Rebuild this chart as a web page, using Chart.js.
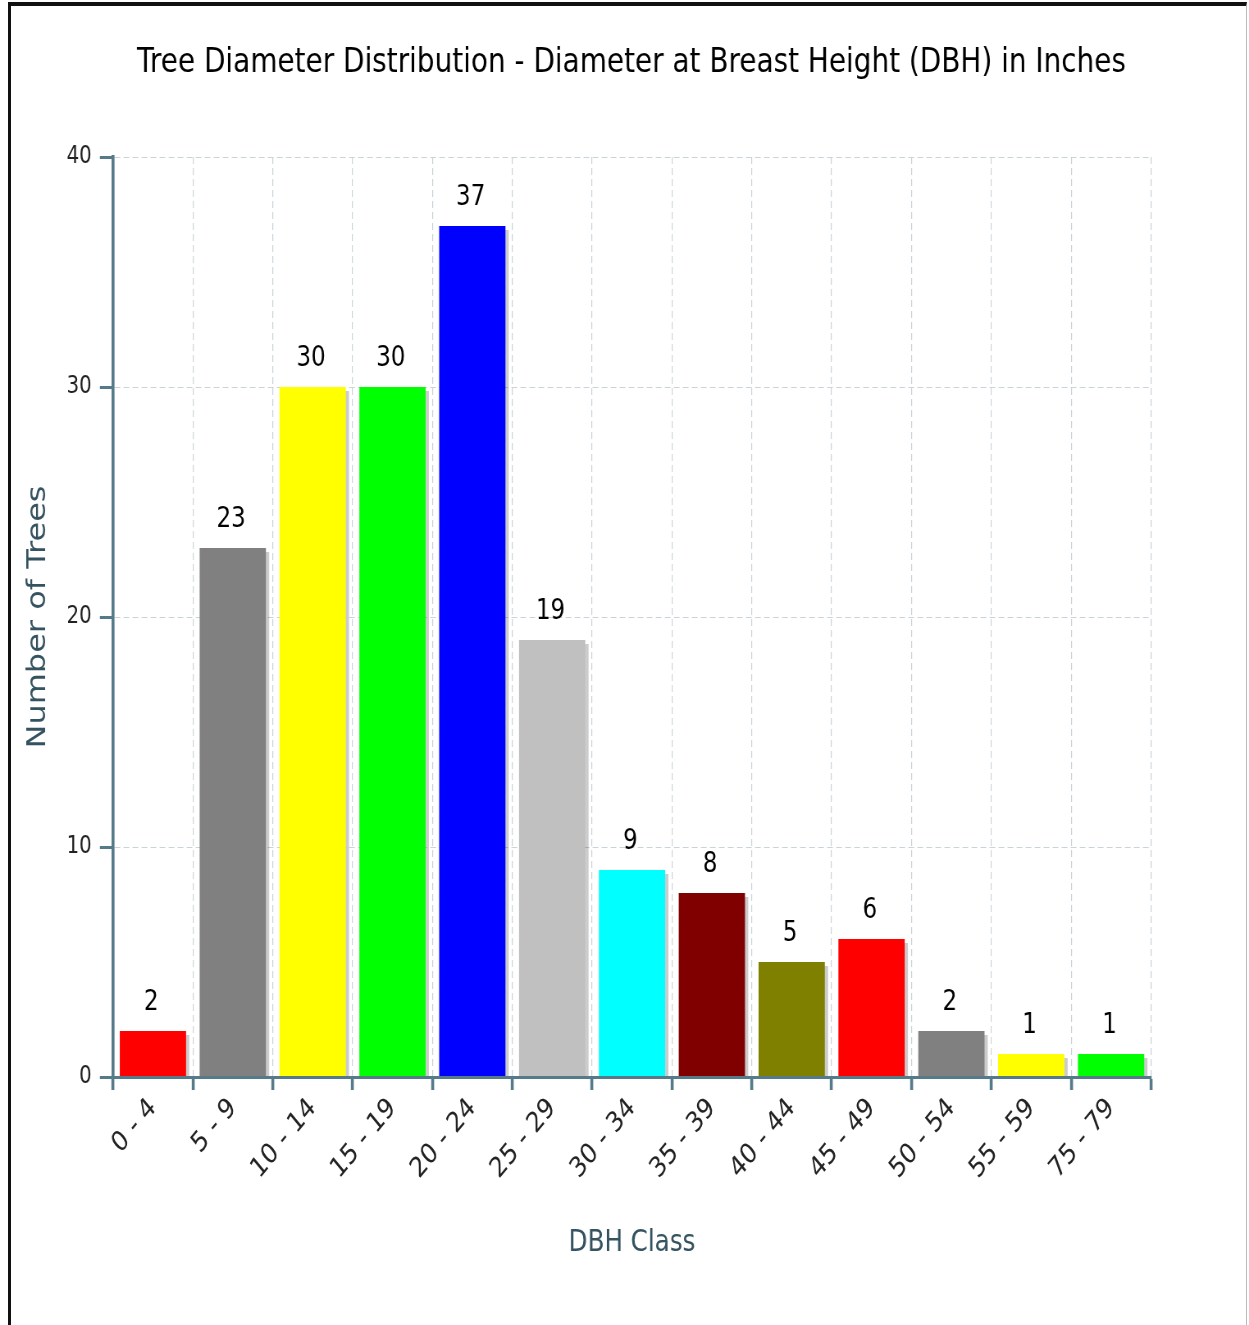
<!DOCTYPE html>
<html>
<head>
<meta charset="utf-8">
<title>Tree Diameter Distribution</title>
<script src="https://cdn.jsdelivr.net/npm/chart.js"></script>
<style>
  html, body { margin: 0; padding: 0; background: #fff; }
  body { position: relative; width: 1249px; height: 1325px; overflow: hidden; }
  #chart { position: absolute; left: 0; top: 0; }
  #frame {
    position: absolute; left: 8px; top: 2px; width: 1235px; height: 1340px;
    border-left: 3px solid #111; border-top: 4px solid #111; border-right: 1px solid #bbb;
    pointer-events: none;
  }
</style>
</head>
<body>
<canvas id="chart" width="1523" height="1325" style="width:1249px;height:1325px"></canvas>
<div id="frame"></div>
<script>
// data
const dbhClasses = ["0 - 4", "5 - 9", "10 - 14", "15 - 19", "20 - 24", "25 - 29", "30 - 34",
                    "35 - 39", "40 - 44", "45 - 49", "50 - 54", "55 - 59", "75 - 79"];
const treeCounts = [2, 23, 30, 30, 37, 19, 9, 8, 5, 6, 2, 1, 1];
const barColors = ["#FF0000", "#808080", "#FFFF00", "#00FF00", "#0000FF", "#C0C0C0", "#00FFFF",
                   "#800000", "#808000", "#FF0000", "#808080", "#FFFF00", "#00FF00"];
const yTicks = [0, 10, 20, 30, 40];

// the original is squeezed sideways, so draw wider and let css shrink it
const SX = 1249 / 1523;
const ix = px => px / SX;
const PAD_LEFT = 17;

const AXIS = "#557a8a";
const GRID = "#cad3d7";
const FONT = "DejaVu Sans";

// ==========================
// Bar shadow + value labels
// ==========================

const barShadow = {
    id: "barShadow",
    beforeDatasetsDraw(chart) {
        const c = chart.ctx;
        c.save();
        c.shadowColor = "rgba(0,0,0,0.2)";
        c.shadowOffsetX = 4;
        c.shadowOffsetY = 4;
        c.shadowBlur = 0;
    },
    afterDatasetsDraw(chart) {
        chart.ctx.restore();
    }
};

const valueLabels = {
    id: "valueLabels",
    afterDatasetsDraw(chart) {
        const c = chart.ctx;
        const meta = chart.getDatasetMeta(0);
        c.save();
        c.font = "28px '" + FONT + "'";
        c.fillStyle = "#000";
        c.textAlign = "center";
        c.textBaseline = "alphabetic";
        meta.data.forEach((bar, i) => {
            c.fillText(String(treeCounts[i]), bar.x - 2, bar.y - 21);
        });
        c.restore();
    }
};

new Chart(document.getElementById("chart"), {
    type: "bar",
    data: {
        labels: dbhClasses,
        datasets: [{
            data: treeCounts,
            backgroundColor: barColors,
            borderWidth: 0,
            barPercentage: 0.83,
            categoryPercentage: 1,
            clip: 0
        }]
    },
    options: {
        responsive: false,
        animation: false,
        devicePixelRatio: 1,
        layout: {
            padding: { left: PAD_LEFT, top: 0, right: 0, bottom: 0 }
        },
        plugins: {
            legend: { display: false },
            tooltip: { enabled: false },
            title: {
                display: true,
                text: "Tree Diameter Distribution - Diameter at Breast Height (DBH) in Inches",
                color: "#000",
                font: { family: FONT, size: 34, weight: "normal" },
                padding: { top: 42.6, bottom: 73.6 }
            }
        },
        scales: {
            x: {
                afterFit: s => { s.height = 1325 - 1077; },
                grid: {
                    color: GRID,
                    lineWidth: 1.2,
                    tickColor: AXIS,
                    tickWidth: 3.6,
                    tickLength: 13,
                    offset: true
                },
                border: { color: AXIS, width: 3, dash: [7, 4], z: 1 },
                ticks: {
                    color: "#222",
                    font: { family: FONT, size: 28 },
                    minRotation: 45,
                    maxRotation: 45,
                    autoSkip: false,
                    padding: 2
                },
                title: {
                    display: true,
                    text: "DBH Class",
                    color: "#34525f",
                    font: { family: FONT, size: 30 },
                    padding: { top: 0, bottom: 64 }
                }
            },
            y: {
                min: yTicks[0],
                max: yTicks[yTicks.length - 1],
                afterFit: s => { s.width = ix(113) - PAD_LEFT; },
                afterBuildTicks: s => { s.ticks = yTicks.map(v => ({ value: v })); },
                grid: {
                    color: GRID,
                    lineWidth: 1,
                    tickColor: AXIS,
                    tickWidth: 3,
                    tickLength: 16
                },
                border: { color: AXIS, width: 3.6, dash: [7, 4], z: 1 },
                ticks: {
                    color: "#222",
                    font: { family: FONT, size: 24 },
                    padding: 10
                },
                title: {
                    display: true,
                    text: "Number of Trees",
                    color: "#34525f",
                    font: { family: FONT, size: 32 },
                    padding: { top: ix(38) - PAD_LEFT - 19.2 }
                }
            },
            // empty right-hand axis that only reserves the blank strip to the right of the plot
            spacer: {
                position: "right",
                display: true,
                afterFit: s => { s.width = 1523 - ix(1151); },
                grid: { display: false },
                border: { display: false },
                ticks: { display: false }
            }
        }
    },
    plugins: [barShadow, valueLabels]
});
</script>
</body>
</html>
